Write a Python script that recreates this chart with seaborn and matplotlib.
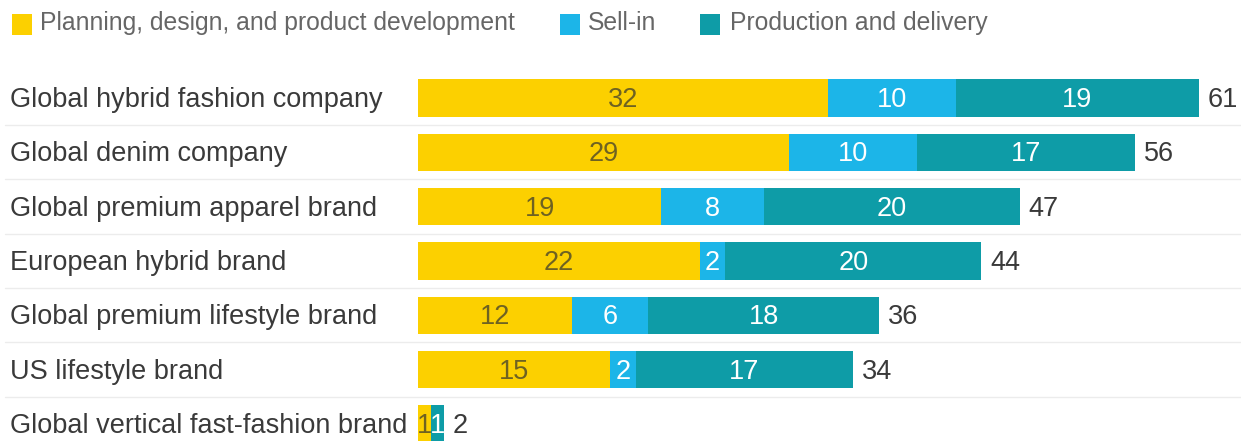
import numpy as np
import pandas as pd
import matplotlib
matplotlib.use("Agg")
import matplotlib.pyplot as plt
import seaborn as sns
from matplotlib.patches import Rectangle
from matplotlib.transforms import blended_transform_factory

categories = [
    "Global hybrid fashion company",
    "Global denim company",
    "Global premium apparel brand",
    "European hybrid brand",
    "Global premium lifestyle brand",
    "US lifestyle brand",
    "Global vertical fast-fashion brand",
]
planning = [32, 29, 19, 22, 12, 15, 1]
sell_in = [10, 10, 8, 2, 6, 2, 0]
production = [19, 17, 20, 20, 18, 17, 1]
series_names = ["Planning, design, and product development", "Sell-in", "Production and delivery"]
colors = ["#FCD000", "#1CB5E8", "#0E9CA7"]

sns.set_theme(style="white")
plt.rcParams["font.family"] = ["Liberation Sans", "DejaVu Sans"]

W, H = 1241, 441
fig = plt.figure(figsize=(W / 100, H / 100), dpi=100)
fig.patch.set_facecolor("white")

px_per_unit = 12.8
x0 = 418
top_px = 70.8
row_px = 54.33
first_center = 98

ax = fig.add_axes([0, 0, 1, 1 - top_px / H])

df = pd.DataFrame({"category": categories, "planning": planning,
                   "sell_in": sell_in, "production": production})
df["cum2"] = df["planning"] + df["sell_in"]
df["total"] = df["cum2"] + df["production"]

for col, c in [("total", colors[2]), ("cum2", colors[1]), ("planning", colors[0])]:
    sns.barplot(data=df, x=col, y="category", color=c, saturation=1, width=0.69,
                orient="h", ax=ax, linewidth=0, edgecolor="none")

ax.set_xlim(-x0 / px_per_unit, (W - x0) / px_per_unit)
ax.set_ylim((H - first_center) / row_px, -0.5)
ax.axis("off")

fs = 19.5
dy = 0.035
# separators
for i in range(len(categories) - 1):
    ax.axhline(i + 0.5, xmin=5 / W, xmax=1, color="#ececec", lw=1, zorder=0)

trans = blended_transform_factory(fig.transFigure, ax.transData)
for i, row in df.iterrows():
    ax.text(10 / W, i + dy, row["category"], transform=trans, ha="left", va="center",
            fontsize=fs, color="#3a3a3a")
    left = 0
    for val, tc in [(row["planning"], "#6e6222"), (row["sell_in"], "white"),
                    (row["production"], "white")]:
        if val > 0:
            ax.text(left + val / 2, i + dy, f"{val}", ha="center", va="center",
                    fontsize=fs, color=tc)
        left += val
    ax.text(row["total"] + 9 / px_per_unit, i + dy, f"{row['total']}", ha="left",
            va="center", fontsize=fs, color="#3a3a3a")

# legend
leg_pos = [(12, 40), (560, 588), (700, 730)]
for (sx, tx), name, c in zip(leg_pos, series_names, colors):
    fig.add_artist(Rectangle((sx / W, 1 - 35 / H), 20 / W, 21 / H,
                             transform=fig.transFigure, color=c, lw=0))
    fig.text(tx / W, 1 - 23 / H, name, ha="left", va="center", fontsize=17.8,
             color="#666666")

fig.savefig("out.png", dpi=100, facecolor="white")
